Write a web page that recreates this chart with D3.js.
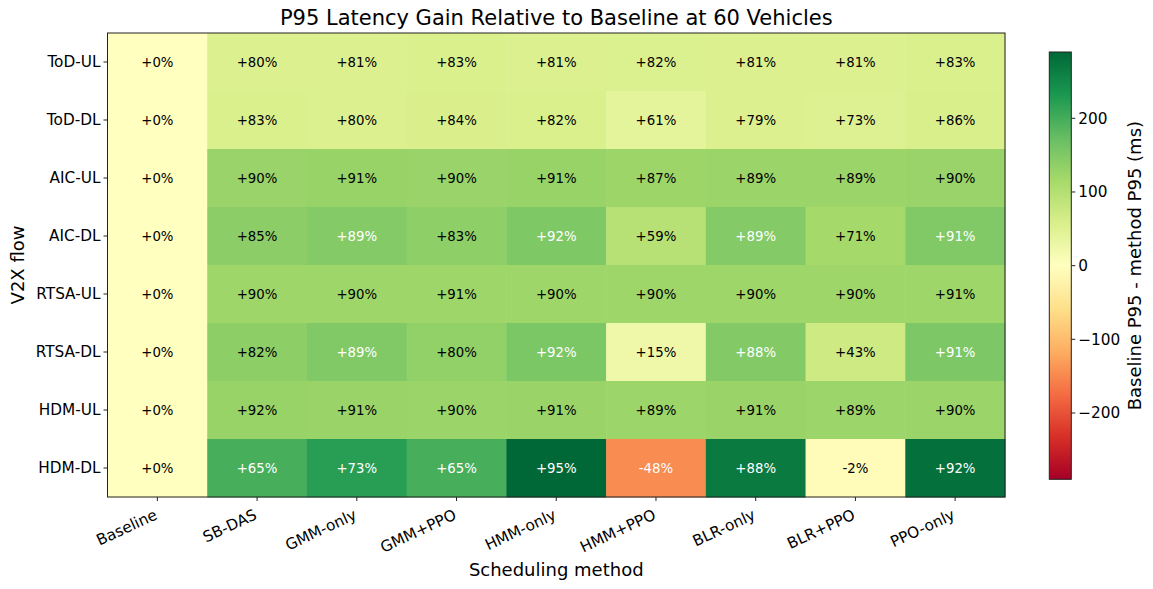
<!DOCTYPE html>
<html><head><meta charset="utf-8">
<script src="https://cdn.jsdelivr.net/npm/d3@7"></script>
<style>
body{margin:0;background:#fff;}
svg{font-family:"DejaVu Sans",sans-serif;}
</style></head>
<body><svg id="c" width="1153" height="589"></svg>
<script>
const methods = ["Baseline","SB-DAS","GMM-only","GMM+PPO","HMM-only","HMM+PPO","BLR-only","BLR+PPO","PPO-only"];
const flows = ["ToD-UL","ToD-DL","AIC-UL","AIC-DL","RTSA-UL","RTSA-DL","HDM-UL","HDM-DL"];
// Baseline P95 - method P95 (ms)
const gainMs = [
  [0, 54, 54, 56, 54, 55, 54, 54, 56],
  [0, 56, 54, 57, 56, 41, 54, 50, 58],
  [0, 128, 129, 128, 129, 124, 126, 126, 128],
  [0, 140, 147, 137, 152, 97, 147, 117, 150],
  [0, 122, 122, 123, 122, 122, 122, 122, 123],
  [0, 138, 150, 134, 155, 25, 148, 72, 153],
  [0, 129, 127, 126, 127, 125, 127, 125, 126],
  [0, 198, 222, 198, 290, -146, 268, -6, 280]
];
const gainPct = [
  ["+0%","+80%","+81%","+83%","+81%","+82%","+81%","+81%","+83%"],
  ["+0%","+83%","+80%","+84%","+82%","+61%","+79%","+73%","+86%"],
  ["+0%","+90%","+91%","+90%","+91%","+87%","+89%","+89%","+90%"],
  ["+0%","+85%","+89%","+83%","+92%","+59%","+89%","+71%","+91%"],
  ["+0%","+90%","+90%","+91%","+90%","+90%","+90%","+90%","+91%"],
  ["+0%","+82%","+89%","+80%","+92%","+15%","+88%","+43%","+91%"],
  ["+0%","+92%","+91%","+90%","+91%","+89%","+91%","+89%","+90%"],
  ["+0%","+65%","+73%","+65%","+95%","-48%","+88%","-2%","+92%"]
];
const cbTicks = [-200,-100,0,100,200];
const vmax = 290;
const rdylgn = ["#a50026","#d73027","#f46d43","#fdae61","#fee08b","#ffffbf","#d9ef8b","#a6d96a","#66bd63","#1a9850","#006837"];

const svg = d3.select("#c");
const L=107.5, R=1005, T=33, B=497;
const x = d3.scaleBand().domain(methods).range([L,R]);
const y = d3.scaleBand().domain(flows).range([T,B]);
const cmap = d3.scaleLinear().domain(d3.range(11).map(i=>i/10)).range(rdylgn).interpolate(d3.interpolateRgb).clamp(true);
const norm = d3.scaleLinear().domain([-vmax, vmax]).range([0,1]);
const color = v => cmap(norm(v));

const cells = [];
flows.forEach((f,i)=>methods.forEach((m,j)=>cells.push({f,m,v:gainMs[i][j],t:gainPct[i][j]})));

svg.append("g").selectAll("rect").data(cells).join("rect")
  .attr("x",d=>x(d.m)).attr("y",d=>y(d.f))
  .attr("width",x.bandwidth()+0.5).attr("height",y.bandwidth()+0.5)
  .attr("fill",d=>color(d.v));

svg.append("g").selectAll("text").data(cells).join("text")
  .attr("x",d=>x(d.m)+x.bandwidth()/2).attr("y",d=>y(d.f)+y.bandwidth()/2)
  .attr("dy","0.35em").attr("text-anchor","middle")
  .attr("font-size","13.3px")
  .attr("fill",d=>Math.abs(d.v)>0.5*vmax?"#fff":"#000")
  .text(d=>d.t);

svg.append("rect").attr("x",L).attr("y",T).attr("width",R-L).attr("height",B-T)
  .attr("fill","none").attr("stroke","#222").attr("stroke-width",1);

// y axis
const yg = svg.append("g");
flows.forEach(f=>{
  const yy = y(f)+y.bandwidth()/2;
  yg.append("line").attr("x1",L-4).attr("x2",L).attr("y1",yy).attr("y2",yy).attr("stroke","#222");
  yg.append("text").attr("x",L-7).attr("y",yy).attr("dy","0.35em").attr("text-anchor","end")
    .attr("font-size","15.3px").attr("fill","#000").text(f);
});
// x axis
const xg = svg.append("g");
methods.forEach(m=>{
  const xx = x(m)+x.bandwidth()/2;
  xg.append("line").attr("x1",xx).attr("x2",xx).attr("y1",B).attr("y2",B+4).attr("stroke","#222");
  xg.append("text").attr("transform",`translate(${xx-4},${B+11}) rotate(-25)`)
    .attr("dy","0.75em").attr("text-anchor","end")
    .attr("font-size","15.3px").attr("fill","#000").text(m);
});

svg.append("text").attr("x",(L+R)/2).attr("y",576).attr("text-anchor","middle")
  .attr("font-size","18px").text("Scheduling method");
svg.append("text").attr("transform",`translate(18,${(T+B)/2}) rotate(-90)`).attr("text-anchor","middle")
  .attr("dy","0.35em").attr("font-size","18px").text("V2X flow");
svg.append("text").attr("x",(L+R)/2).attr("y",25).attr("text-anchor","middle")
  .attr("font-size","21px").text("P95 Latency Gain Relative to Baseline at 60 Vehicles");

// colorbar
const cbL=1049.3, cbW=22, cbT=52, cbB=479.3;
const cy = d3.scaleLinear().domain([-vmax,vmax]).range([cbB,cbT]);
const defs = svg.append("defs");
const grad = defs.append("linearGradient").attr("id","g").attr("x1",0).attr("x2",0).attr("y1",1).attr("y2",0);
rdylgn.forEach((c,i)=>grad.append("stop").attr("offset",i/10).attr("stop-color",c));
svg.append("rect").attr("x",cbL).attr("y",cbT).attr("width",cbW).attr("height",cbB-cbT)
  .attr("fill","url(#g)").attr("stroke","#222").attr("stroke-width",1);
const cg = svg.append("g");
cbTicks.forEach(t=>{
  cg.append("line").attr("x1",cbL+cbW).attr("x2",cbL+cbW+4).attr("y1",cy(t)).attr("y2",cy(t)).attr("stroke","#222");
  cg.append("text").attr("x",cbL+cbW+7).attr("y",cy(t)).attr("dy","0.35em")
    .attr("font-size","15.3px").text(d3.format("")(t).replace("-","\u2212"));
});
svg.append("text").attr("transform",`translate(1135,${(cbT+cbB)/2}) rotate(-90)`).attr("text-anchor","middle")
  .attr("dy","0.35em").attr("font-size","18px").text("Baseline P95 - method P95 (ms)");
</script></body></html>
